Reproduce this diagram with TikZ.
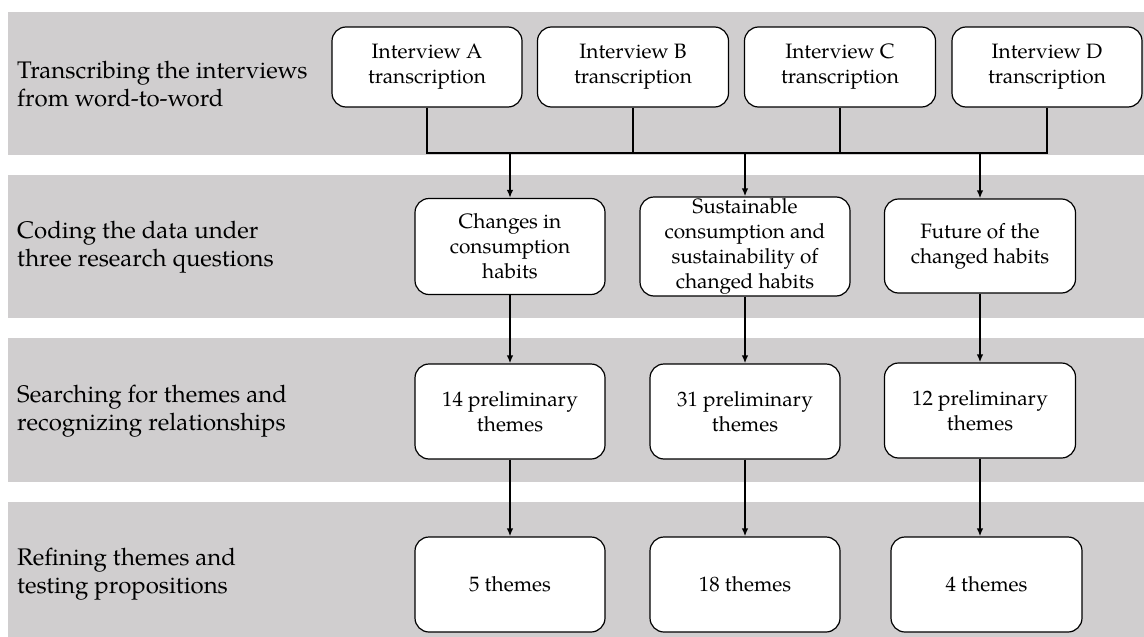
\documentclass[tikz,border=0pt]{standalone}
\usepackage{fontspec}
\setmainfont{TeX Gyre Pagella}
\usetikzlibrary{arrows.meta}
\definecolor{bandgray}{RGB}{208,206,207}
\begin{document}
\begin{tikzpicture}[x=1pt,y=-1pt,
  box/.style={draw=black, line width=1.2pt, rounded corners=14pt, fill=white, align=center, inner sep=0pt, font=\fontsize{20.8}{25}\selectfont},
  lab/.style={anchor=west, align=left, inner sep=0pt, font=\fontsize{24}{28.5}\selectfont},
  conn/.style={line width=2pt},
  arr/.style={line width=2pt, -{Latex[length=8pt,width=6.5pt]}}]
\useasboundingbox (0,0) rectangle (1144,637);
% bands
\fill[bandgray] (8,12) rectangle (1144,155);
\fill[bandgray] (8,175) rectangle (1144,318);
\fill[bandgray] (8,338) rectangle (1144,482);
\fill[bandgray] (8,502) rectangle (1144,637);
% labels
\node[lab] (l1) at (17,84) {Transcribing the interviews\\from word-to-word};
\node[lab] (l2) at (17,247) {Coding the data under\\three research questions};
\node[lab] (l3) at (17,411) {Searching for themes and\\recognizing relationships};
\node[lab] (l4) at (17,574) {Refining themes and\\testing propositions};
% row 1
\node[box, minimum width=190pt, minimum height=80pt] (iA) at (427,67) {Interview A\\transcription};
\node[box, minimum width=191pt, minimum height=80pt] (iB) at (633,67) {Interview B\\transcription};
\node[box, minimum width=191pt, minimum height=80pt] (iC) at (840,67) {Interview C\\transcription};
\node[box, minimum width=190pt, minimum height=80pt] (iD) at (1047,67) {Interview D\\transcription};
% row 2
\node[box, minimum width=190pt, minimum height=96pt] (c1) at (510,246.5) {Changes in\\consumption\\habits};
\node[box, minimum width=210pt, minimum height=99pt] (c2) at (745,246.5) {Sustainable\\consumption and\\sustainability of\\changed habits};
\node[box, minimum width=191pt, minimum height=94pt] (c3) at (980,246) {Future of the\\changed habits};
% row 3
\node[box, minimum width=190pt, minimum height=95pt] (p1) at (510,411.5) {14 preliminary\\themes};
\node[box, minimum width=190pt, minimum height=95pt] (p2) at (745,411.5) {31 preliminary\\themes};
\node[box, minimum width=191pt, minimum height=95pt] (p3) at (980,410.5) {12 preliminary\\themes};
% row 4
\node[box, minimum width=190pt, minimum height=95pt] (f1) at (510,584.5) {5 themes};
\node[box, minimum width=190pt, minimum height=95pt] (f2) at (745,584.5) {18 themes};
\node[box, minimum width=191pt, minimum height=95pt] (f3) at (986.5,584.5) {4 themes};
% bus
\coordinate (bus) at (0,153);
\draw[conn] (iA.south) -- (iA.south |- bus) -- (iD.south |- bus) -- (iD.south);
\draw[conn] (iB.south) -- (iB.south |- bus);
\draw[conn] (iC.south) -- (iC.south |- bus);
\draw[arr] (c1.north |- bus) -- (c1.north);
\draw[arr] (c2.north |- bus) -- (c2.north);
\draw[arr] (c3.north |- bus) -- (c3.north);
% vertical flows
\draw[arr] (c1.south) -- (p1.north);
\draw[arr] (c2.south) -- (p2.north);
\draw[arr] (c3.south) -- (p3.north);
\draw[arr] (p1.south) -- (f1.north);
\draw[arr] (p2.south) -- (f2.north);
\draw[arr] (p3.south) -- (p3.south |- f3.north);
\end{tikzpicture}
\end{document}
